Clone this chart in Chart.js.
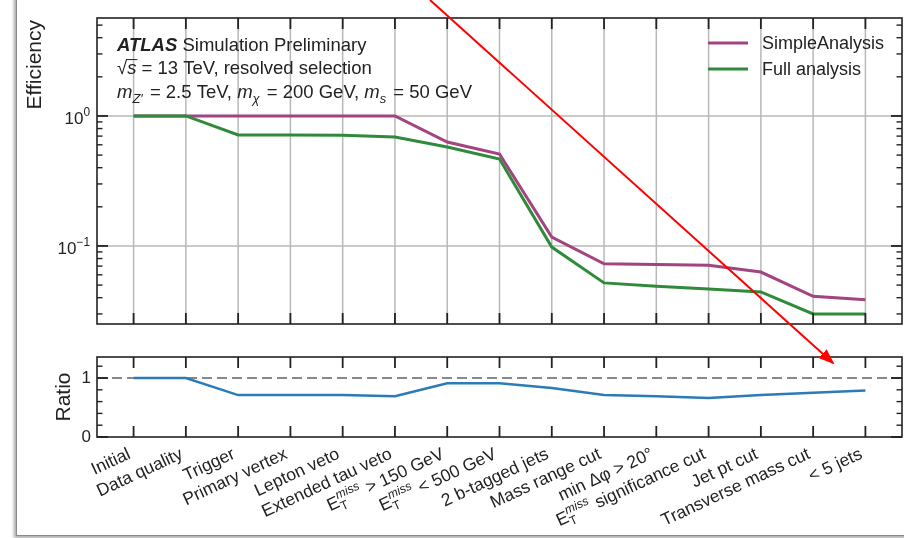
<!DOCTYPE html>
<html>
<head>
<meta charset="utf-8">
<script src="https://cdn.jsdelivr.net/npm/chart.js@4.4.1/dist/chart.umd.min.js"></script>
<style>
  body { margin: 0; background: #fff; width: 904px; height: 538px; overflow: hidden; position: relative; }
  #card { position: absolute; left: 16px; top: -6px; width: 900px; height: 541px;
          border-left: 1px solid #8a8a8a; border-bottom: 1px solid #8a8a8a;
          box-shadow: -2px 2px 3px rgba(0,0,0,0.35); background: #fff; }
  #effChart { position: absolute; left: 0; top: 0; }
  #ratioChart { position: absolute; left: 0; top: 335px; }
  #arrow { position: absolute; left: 0; top: 0; pointer-events: none; }
</style>
</head>
<body>
<div id="card"></div>
<canvas id="effChart" width="904" height="335"></canvas>
<canvas id="ratioChart" width="904" height="203"></canvas>
<svg id="arrow" width="904" height="538">
  <defs>
    <marker id="head" markerWidth="8" markerHeight="6" refX="7" refY="3" orient="auto" markerUnits="strokeWidth">
      <path d="M0,0 L8,3 L0,6 z" fill="#ff0000"/>
    </marker>
  </defs>
  <line x1="430" y1="0" x2="833" y2="363" stroke="#ff0000" stroke-width="2" marker-end="url(#head)"/>
</svg>
<script>
document.addEventListener("DOMContentLoaded", () => {

  const categories = ["Initial", "Data quality", "Trigger", "Primary vertex", "Lepton veto",
    "Extended tau veto", "E_T^miss > 150 GeV", "E_T^miss < 500 GeV", "2 b-tagged jets",
    "Mass range cut", "min Δφ > 20°", "E_T^miss significance cut", "Jet pt cut",
    "Transverse mass cut", "< 5 jets"];

  const simpleAnalysis = [1, 1, 1, 1, 1, 1, 0.63, 0.51, 0.117, 0.073, 0.072, 0.071, 0.063, 0.041, 0.0385];
  const fullAnalysis   = [1, 1, 0.714, 0.714, 0.71, 0.69, 0.577, 0.467, 0.098, 0.052, 0.049, 0.0467, 0.0443, 0.030, 0.030];
  const ratio          = [1, 1, 0.71, 0.71, 0.71, 0.69, 0.91, 0.91, 0.83, 0.71, 0.69, 0.66, 0.71, 0.75, 0.79];

  const effTicks = [0.1, 1];
  const effTickLabels = ["−1", "0"];   // exponents of 10
  const ratioTicks = [0, 1];
  const ratioTickLabels = ["0", "1"];
  const ratioMinor = [0.2, 0.4, 0.6, 0.8, 1.2];

  const FONT = '"Liberation Sans", Arial, sans-serif';
  const INK = "#222";
  const PURPLE = "#a3437f";
  const GREEN = "#2f8b3b";
  const BLUE = "#2b7bb9";

  const pts = arr => arr.map((v, i) => ({ x: i, y: v }));

  // --- small rich-text helper (italic, sub/superscripts, overline) ---
  function fontOf(s, size) {
    return (s.it ? "italic " : "") + (s.bold ? "bold " : "") + size + "px " + FONT;
  }
  function segAdvance(ctx, s, size) {
    ctx.font = fontOf(s, size);
    let w = ctx.measureText(s.t).width;
    let extra = 0;
    const small = size * 0.7;
    if (s.sub) { ctx.font = fontOf({ it: s.subIt }, small); extra = Math.max(extra, ctx.measureText(s.sub).width); }
    if (s.sup) { ctx.font = fontOf({ it: s.supIt }, small); extra = Math.max(extra, ctx.measureText(s.sup).width); }
    return w + extra + (s.gap || 0);
  }
  function richWidth(ctx, segs, size) {
    return segs.reduce((acc, s) => acc + segAdvance(ctx, s, size), 0);
  }
  function drawRich(ctx, segs, x, y, size, align) {
    ctx.textAlign = "left";
    let cx = align === "right" ? x - richWidth(ctx, segs, size) : x;
    const small = size * 0.7;
    segs.forEach(s => {
      ctx.font = fontOf(s, size);
      ctx.fillText(s.t, cx, y);
      const w = ctx.measureText(s.t).width;
      if (s.over) {
        ctx.save();
        ctx.lineWidth = 1;
        ctx.strokeStyle = ctx.fillStyle;
        ctx.beginPath();
        ctx.moveTo(cx - 1, y - size * 0.78);
        ctx.lineTo(cx + w + 1, y - size * 0.78);
        ctx.stroke();
        ctx.restore();
      }
      let extra = 0;
      if (s.sub) {
        ctx.font = fontOf({ it: s.subIt }, small);
        ctx.fillText(s.sub, cx + w, y + size * 0.25);
        extra = Math.max(extra, ctx.measureText(s.sub).width);
      }
      if (s.sup) {
        ctx.font = fontOf({ it: s.supIt }, small);
        ctx.fillText(s.sup, cx + w, y - size * 0.45);
        extra = Math.max(extra, ctx.measureText(s.sup).width);
      }
      cx += w + extra + (s.gap || 0);
    });
  }
  function labelSegs(label) {
    const out = [];
    label.split("E_T^miss").forEach((p, i) => {
      if (i > 0) out.push({ t: "E", sub: "T", sup: "miss", supIt: true, gap: 1 });
      if (p) out.push({ t: p });
    });
    return out;
  }
  function line(ctx, x1, y1, x2, y2) {
    ctx.beginPath(); ctx.moveTo(x1, y1); ctx.lineTo(x2, y2); ctx.stroke();
  }
  function drawFrameAndXTicks(ctx, a, x) {
    ctx.strokeStyle = INK;
    ctx.lineWidth = 1.6;
    ctx.strokeRect(a.left, a.top, a.right - a.left, a.bottom - a.top);
    ctx.lineWidth = 1.8;
    categories.forEach((c, i) => {
      const px = x.getPixelForValue(i);
      line(ctx, px, a.top, px, a.top + 11);
      line(ctx, px, a.bottom, px, a.bottom - 11);
    });
  }
  function drawYTick(ctx, a, py, len) {
    line(ctx, a.left, py, a.left + len, py);
    line(ctx, a.right, py, a.right - len, py);
  }

  const hiddenScale = (extra, isX) => Object.assign({
    display: true,
    ticks: { display: false },
    grid: { display: false, drawTicks: false },
    border: { display: false },
    afterFit: s => { if (isX) s.height = 0; else s.width = 0; }
  }, extra);

  // --- efficiency panel ---
  const effDecor = {
    id: "effDecor",
    beforeDatasetsDraw(chart) {
      const { ctx, chartArea: a, scales: { x, y } } = chart;
      ctx.save();
      ctx.strokeStyle = "#b8b8b8";
      ctx.lineWidth = 1.5;
      categories.forEach((c, i) => {
        const px = x.getPixelForValue(i);
        line(ctx, px, a.top, px, a.bottom);
      });
      effTicks.forEach(v => {
        const py = y.getPixelForValue(v);
        line(ctx, a.left, py, a.right, py);
      });
      ctx.restore();
    },
    afterDraw(chart) {
      const { ctx, chartArea: a, scales: { x, y } } = chart;
      ctx.save();
      drawFrameAndXTicks(ctx, a, x);
      // log ticks
      effTicks.forEach(v => drawYTick(ctx, a, y.getPixelForValue(v), 11));
      ctx.lineWidth = 1.4;
      [0.01, 0.1, 1].forEach(d => {
        for (let k = 2; k <= 9; k++) {
          const v = k * d;
          if (v > y.min && v < y.max) drawYTick(ctx, a, y.getPixelForValue(v), 5.5);
        }
      });
      // y tick labels
      ctx.fillStyle = INK;
      ctx.textBaseline = "alphabetic";
      effTicks.forEach((v, i) => {
        const py = y.getPixelForValue(v);
        drawRich(ctx, [{ t: "10", sup: effTickLabels[i] }], a.left - 7, py + 8, 17, "right");
      });
      // axis title (top aligned)
      ctx.save();
      ctx.translate(41, a.top + 2);
      ctx.rotate(-Math.PI / 2);
      ctx.font = "21px " + FONT;
      ctx.textAlign = "right";
      ctx.fillText("Efficiency", 0, 0);
      ctx.restore();
      // text box
      const ts = 18.5;
      drawRich(ctx, [{ t: "ATLAS", it: true, bold: true }, { t: " Simulation Preliminary" }], 117, 51, ts);
      drawRich(ctx, [{ t: "√" }, { t: "s", it: true, over: true }, { t: " = 13 TeV, resolved selection" }], 117, 74, ts);
      drawRich(ctx, [{ t: "m", it: true, sub: "Z′", subIt: true, gap: 2 }, { t: " = 2.5 TeV, " },
                     { t: "m", it: true, sub: "χ", subIt: true, gap: 2 }, { t: " = 200 GeV, " },
                     { t: "m", it: true, sub: "s", subIt: true, gap: 2 }, { t: " = 50 GeV" }], 117, 98, ts);
      // legend
      [["SimpleAnalysis", PURPLE, 43], ["Full analysis", GREEN, 69]].forEach(([name, col, ly]) => {
        ctx.strokeStyle = col;
        ctx.lineWidth = 3;
        line(ctx, 708, ly, 748, ly);
        ctx.font = "18px " + FONT;
        ctx.textAlign = "left";
        ctx.fillText(name, 762, ly + 6);
      });
      ctx.restore();
    }
  };

  new Chart(document.getElementById("effChart"), {
    type: "line",
    data: {
      datasets: [
        { label: "SimpleAnalysis", data: pts(simpleAnalysis), borderColor: PURPLE, borderWidth: 3, order: 1 },
        { label: "Full analysis", data: pts(fullAnalysis), borderColor: GREEN, borderWidth: 3, order: 0 }
      ]
    },
    options: {
      responsive: false,
      animation: false,
      devicePixelRatio: 1,
      layout: { padding: { left: 97, right: 2, top: 18, bottom: 11 } },
      elements: { point: { radius: 0 }, line: { tension: 0 } },
      plugins: { legend: { display: false }, tooltip: { enabled: false } },
      scales: {
        x: hiddenScale({ type: "linear", min: -0.7, max: 14.7 }, true),
        y: hiddenScale({ type: "logarithmic", min: 0.0251, max: 5.67 }, false)
      }
    },
    plugins: [effDecor]
  });

  // --- ratio panel ---
  const ratioDecor = {
    id: "ratioDecor",
    beforeDatasetsDraw(chart) {
      const { ctx, chartArea: a, scales: { y } } = chart;
      ctx.save();
      ctx.strokeStyle = "#888";
      ctx.lineWidth = 2.2;
      ctx.setLineDash([10, 5]);
      const py = y.getPixelForValue(1);
      line(ctx, a.left, py, a.right, py);
      ctx.restore();
    },
    afterDraw(chart) {
      const { ctx, chartArea: a, scales: { x, y } } = chart;
      ctx.save();
      drawFrameAndXTicks(ctx, a, x);
      ratioTicks.forEach(v => drawYTick(ctx, a, y.getPixelForValue(v), 11));
      ctx.lineWidth = 1.4;
      ratioMinor.forEach(v => drawYTick(ctx, a, y.getPixelForValue(v), 5.5));
      ctx.fillStyle = INK;
      ctx.font = "17px " + FONT;
      ctx.textAlign = "right";
      ctx.textBaseline = "middle";
      ratioTicks.forEach((v, i) => ctx.fillText(ratioTickLabels[i], a.left - 6, y.getPixelForValue(v)));
      // axis title
      ctx.save();
      ctx.translate(70, (a.top + a.bottom) / 2);
      ctx.rotate(-Math.PI / 2);
      ctx.font = "21px " + FONT;
      ctx.textAlign = "center";
      ctx.textBaseline = "alphabetic";
      ctx.fillText("Ratio", 0, 0);
      ctx.restore();
      // rotated category labels
      const size = 17.5, theta = 25 * Math.PI / 180;
      ctx.textBaseline = "alphabetic";
      categories.forEach((c, i) => {
        const px = x.getPixelForValue(i);
        ctx.save();
        ctx.translate(px - 2, a.bottom + 9 + size * 0.74 * Math.cos(theta));
        ctx.rotate(-theta);
        drawRich(ctx, labelSegs(c), 0, 0, size, "right");
        ctx.restore();
      });
      ctx.restore();
    }
  };

  new Chart(document.getElementById("ratioChart"), {
    type: "line",
    data: {
      datasets: [
        { label: "Ratio", data: pts(ratio), borderColor: BLUE, borderWidth: 2.5 }
      ]
    },
    options: {
      responsive: false,
      animation: false,
      devicePixelRatio: 1,
      layout: { padding: { left: 97, right: 2, top: 22, bottom: 101 } },
      elements: { point: { radius: 0 }, line: { tension: 0 } },
      plugins: { legend: { display: false }, tooltip: { enabled: false } },
      scales: {
        x: hiddenScale({ type: "linear", min: -0.7, max: 14.7 }, true),
        y: hiddenScale({ type: "linear", min: 0, max: 1.356 }, false)
      }
    },
    plugins: [ratioDecor]
  });
});
</script>
</body>
</html>
